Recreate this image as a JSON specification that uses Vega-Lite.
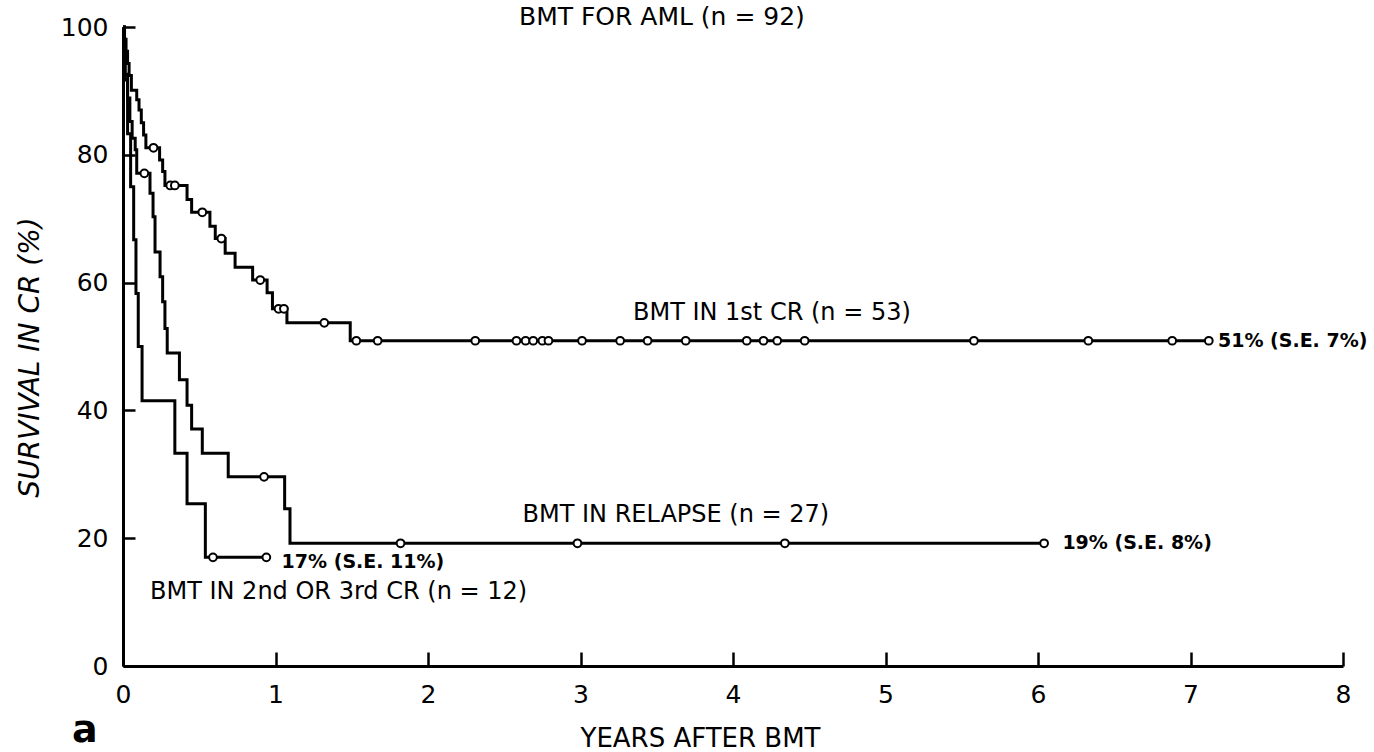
{
  "$schema": "https://vega.github.io/schema/vega-lite/v6.json",
  "autosize": "none",
  "width": 1220,
  "height": 639,
  "padding": {"left": 123, "top": 27, "right": 31, "bottom": 86},
  "background": "white",
  "config": {
    "view": {"stroke": null},
    "font": "DejaVu Sans",
    "axis": {"grid": false, "domainColor": "black", "domainWidth": 3, "tickColor": "black", "tickWidth": 2.5, "labelColor": "black", "titleColor": "black", "labelFont": "DejaVu Sans", "titleFont": "DejaVu Sans"}
  },
  "datasets": {
    "curves": [
      {"g": "1st", "t": 0, "s": 100}, {"g": "1st", "t": 0.01, "s": 98.1}, {"g": "1st", "t": 0.02, "s": 96.2}, {"g": "1st", "t": 0.03, "s": 94.3}, {"g": "1st", "t": 0.04, "s": 92.4}, {"g": "1st", "t": 0.055, "s": 90.1}, {"g": "1st", "t": 0.09, "s": 88.6}, {"g": "1st", "t": 0.105, "s": 87.0}, {"g": "1st", "t": 0.12, "s": 85.0}, {"g": "1st", "t": 0.135, "s": 83.1}, {"g": "1st", "t": 0.15, "s": 81.1}, {"g": "1st", "t": 0.24, "s": 79.2}, {"g": "1st", "t": 0.26, "s": 77.4}, {"g": "1st", "t": 0.275, "s": 75.2}, {"g": "1st", "t": 0.42, "s": 73.0}, {"g": "1st", "t": 0.45, "s": 71.0}, {"g": "1st", "t": 0.57, "s": 68.8}, {"g": "1st", "t": 0.605, "s": 66.9}, {"g": "1st", "t": 0.67, "s": 64.6}, {"g": "1st", "t": 0.735, "s": 62.4}, {"g": "1st", "t": 0.85, "s": 60.4}, {"g": "1st", "t": 0.945, "s": 58.4}, {"g": "1st", "t": 0.98, "s": 55.9}, {"g": "1st", "t": 1.075, "s": 53.7}, {"g": "1st", "t": 1.49, "s": 50.9}, {"g": "1st", "t": 7.12, "s": 50.9},
      {"g": "rel", "t": 0, "s": 100}, {"g": "rel", "t": 0.005, "s": 96.3}, {"g": "rel", "t": 0.015, "s": 92.6}, {"g": "rel", "t": 0.03, "s": 88.9}, {"g": "rel", "t": 0.045, "s": 85.2}, {"g": "rel", "t": 0.06, "s": 82.6}, {"g": "rel", "t": 0.08, "s": 80.8}, {"g": "rel", "t": 0.09, "s": 77.1}, {"g": "rel", "t": 0.177, "s": 74.0}, {"g": "rel", "t": 0.197, "s": 70.3}, {"g": "rel", "t": 0.21, "s": 64.8}, {"g": "rel", "t": 0.243, "s": 60.9}, {"g": "rel", "t": 0.26, "s": 57.0}, {"g": "rel", "t": 0.275, "s": 52.8}, {"g": "rel", "t": 0.29, "s": 49.0}, {"g": "rel", "t": 0.37, "s": 44.8}, {"g": "rel", "t": 0.42, "s": 40.8}, {"g": "rel", "t": 0.45, "s": 37.1}, {"g": "rel", "t": 0.52, "s": 33.3}, {"g": "rel", "t": 0.69, "s": 29.6}, {"g": "rel", "t": 1.06, "s": 24.6}, {"g": "rel", "t": 1.095, "s": 19.2}, {"g": "rel", "t": 6.04, "s": 19.2},
      {"g": "2nd", "t": 0, "s": 100}, {"g": "2nd", "t": 0.01, "s": 91.7}, {"g": "2nd", "t": 0.03, "s": 83.3}, {"g": "2nd", "t": 0.05, "s": 75.0}, {"g": "2nd", "t": 0.07, "s": 66.7}, {"g": "2nd", "t": 0.085, "s": 58.3}, {"g": "2nd", "t": 0.1, "s": 50.0}, {"g": "2nd", "t": 0.125, "s": 41.5}, {"g": "2nd", "t": 0.34, "s": 33.3}, {"g": "2nd", "t": 0.42, "s": 25.4}, {"g": "2nd", "t": 0.54, "s": 17.0}, {"g": "2nd", "t": 0.94, "s": 17.0}
    ],
    "censored": [
      {"g": "1st", "t": 0.2, "s": 81.1}, {"g": "1st", "t": 0.31, "s": 75.2}, {"g": "1st", "t": 0.34, "s": 75.2}, {"g": "1st", "t": 0.52, "s": 71.0}, {"g": "1st", "t": 0.645, "s": 66.9}, {"g": "1st", "t": 0.9, "s": 60.4}, {"g": "1st", "t": 1.02, "s": 55.9}, {"g": "1st", "t": 1.055, "s": 55.9}, {"g": "1st", "t": 1.32, "s": 53.7}, {"g": "1st", "t": 1.53, "s": 50.9}, {"g": "1st", "t": 1.67, "s": 50.9}, {"g": "1st", "t": 2.31, "s": 50.9}, {"g": "1st", "t": 2.58, "s": 50.9}, {"g": "1st", "t": 2.64, "s": 50.9}, {"g": "1st", "t": 2.69, "s": 50.9}, {"g": "1st", "t": 2.75, "s": 50.9}, {"g": "1st", "t": 2.79, "s": 50.9}, {"g": "1st", "t": 3.01, "s": 50.9}, {"g": "1st", "t": 3.26, "s": 50.9}, {"g": "1st", "t": 3.44, "s": 50.9}, {"g": "1st", "t": 3.69, "s": 50.9}, {"g": "1st", "t": 4.09, "s": 50.9}, {"g": "1st", "t": 4.2, "s": 50.9}, {"g": "1st", "t": 4.29, "s": 50.9}, {"g": "1st", "t": 4.47, "s": 50.9}, {"g": "1st", "t": 5.58, "s": 50.9}, {"g": "1st", "t": 6.33, "s": 50.9}, {"g": "1st", "t": 6.88, "s": 50.9}, {"g": "1st", "t": 7.12, "s": 50.9},
      {"g": "rel", "t": 0.14, "s": 77.1}, {"g": "rel", "t": 0.925, "s": 29.6}, {"g": "rel", "t": 1.82, "s": 19.2}, {"g": "rel", "t": 2.98, "s": 19.2}, {"g": "rel", "t": 4.34, "s": 19.2}, {"g": "rel", "t": 6.04, "s": 19.2},
      {"g": "2nd", "t": 0.59, "s": 17.0}, {"g": "2nd", "t": 0.94, "s": 17.0}
    ],
    "grouplabels": [
      {"label": "BMT IN 1st CR (n = 53)", "t": 3.344, "s": 55.2},
      {"label": "BMT IN RELAPSE (n = 27)", "t": 2.62, "s": 23.6},
      {"label": "BMT IN 2nd OR 3rd CR (n = 12)", "t": 0.177, "s": 11.6}
    ],
    "pctlabels": [
      {"label": "51% (S.E. 7%)", "t": 7.18, "s": 50.9},
      {"label": "19% (S.E. 8%)", "t": 6.16, "s": 19.2},
      {"label": "17% (S.E. 11%)", "t": 1.04, "s": 16.3}
    ],
    "titletext": [
      {"label": "BMT FOR AML (n = 92)", "t": 3.534, "s": 100.3}
    ],
    "panel": [
      {"label": "a", "t": -0.334, "s": -11.9}
    ]
  },
  "encoding": {
    "x": {"field": "t", "type": "quantitative", "scale": {"domain": [0, 8], "nice": false, "zero": false},
      "axis": {"values": [0, 1, 2, 3, 4, 5, 6, 7, 8], "tickSize": -14, "labelPadding": 30, "labelFontSize": 25, "labelFlush": false, "labelOverlap": false,
        "title": "YEARS AFTER BMT", "titleFontSize": 26, "titleFontWeight": "normal", "titleX": 577, "titleY": 80, "titleBaseline": "alphabetic", "titleAlign": "center"}},
    "y": {"field": "s", "type": "quantitative", "scale": {"domain": [0, 100], "nice": false},
      "axis": {"values": [0, 20, 40, 60, 80, 100], "tickSize": -12, "labelPadding": 27, "labelFontSize": 25, "labelOverlap": false, "labelBaseline": "middle",
        "title": "SURVIVAL IN CR (%)", "titleFontSize": 28, "titleFontWeight": "normal", "titleFontStyle": "italic", "titleX": -85, "titleY": 330, "titleAngle": 270, "titleBaseline": "alphabetic", "titleAlign": "center"}}
  },
  "layer": [
    {"data": {"name": "curves"}, "mark": {"type": "line", "interpolate": "step-after", "color": "black", "strokeWidth": 3}, "encoding": {"detail": {"field": "g"}}},
    {"data": {"name": "censored"}, "mark": {"type": "point", "shape": "circle", "filled": true, "fill": "white", "stroke": "black", "strokeWidth": 2, "size": 60, "opacity": 1}},
    {"data": {"name": "grouplabels"}, "mark": {"type": "text", "align": "left", "baseline": "middle", "fontSize": 24, "font": "DejaVu Sans", "color": "black"}, "encoding": {"text": {"field": "label"}}},
    {"data": {"name": "pctlabels"}, "mark": {"type": "text", "align": "left", "baseline": "middle", "fontSize": 19, "fontWeight": "bold", "font": "DejaVu Sans", "color": "black"}, "encoding": {"text": {"field": "label"}}},
    {"data": {"name": "titletext"}, "mark": {"type": "text", "align": "center", "baseline": "alphabetic", "fontSize": 25, "font": "DejaVu Sans", "color": "black"}, "encoding": {"text": {"field": "label"}}},
    {"data": {"name": "panel"}, "mark": {"type": "text", "align": "left", "baseline": "alphabetic", "fontSize": 38, "fontWeight": "bold", "font": "DejaVu Sans", "color": "black"}, "encoding": {"text": {"field": "label"}}}
  ]
}
